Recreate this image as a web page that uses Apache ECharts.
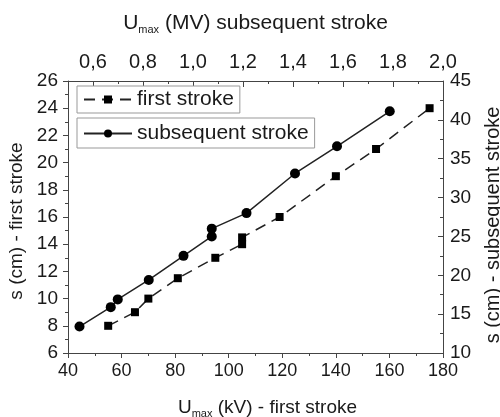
<!DOCTYPE html>
<html>
<head>
<meta charset="utf-8">
<script src="https://cdn.jsdelivr.net/npm/echarts@6/dist/echarts.min.js"></script>
<style>
  html, body { margin: 0; padding: 0; background: #fff; }
  #chart { width: 500px; height: 417px; }
</style>
</head>
<body>
<div id="chart"></div>
<script>
// first stroke: U_max (kV) vs s (cm)
const firstKV = [55, 65, 70, 81, 95, 105, 105, 119, 140, 155, 175];
const firstCm = [8, 9, 10, 11.5, 13, 14, 14.5, 16, 19, 21, 24];
// subsequent stroke: U_max (MV) vs s (cm)
const subMV = [0.546, 0.671, 0.699, 0.823, 0.962, 1.075, 1.075, 1.214, 1.408, 1.576, 1.787];
const subCm = [13.4, 15.9, 16.9, 19.4, 22.5, 25, 26, 28, 33.1, 36.6, 41.1];
// top axis labels
const topLabels = [0.6, 0.8, 1.0, 1.2, 1.4, 1.6, 1.8, 2.0];

const font = "'Liberation Sans', Arial, sans-serif";
const ink = "#1a1a1a";
const axisColor = "#444";

const chart = echarts.init(document.getElementById("chart"));

const zip = (xs, ys) => xs.map((x, i) => [x, ys[i]]);

// U with subscript "max"
const richFor = (size) => ({
  a: { fontSize: size, fontFamily: font, color: ink },
  s: { fontSize: 11, fontFamily: font, color: ink, padding: [12, 0, 0, 0] },
});

const option = {
  animation: false,
  backgroundColor: "#fff",
  textStyle: { fontFamily: font, color: ink },
  grid: { left: 68, right: 57, top: 81, bottom: 64, containLabel: false, outerBoundsMode: "none" },
  legend: [
    {
      data: ["first stroke"],
      left: 77,
      top: 86,
      orient: "vertical",
      itemWidth: 48,
      itemHeight: 10,
      itemGap: 0,
      padding: [3, 6, 3, 6],
      borderColor: "#999",
      borderWidth: 1,
      backgroundColor: "#fff",
      textStyle: { fontSize: 21, fontFamily: font, color: ink },
    },
    {
      data: ["subsequent stroke"],
      left: 77,
      top: 118,
      orient: "vertical",
      itemWidth: 48,
      itemHeight: 10,
      itemGap: 0,
      padding: [5, 6, 4, 6],
      borderColor: "#999",
      borderWidth: 1,
      backgroundColor: "#fff",
      textStyle: { fontSize: 21, fontFamily: font, color: ink },
    },
  ],
  xAxis: [
    {
      type: "value",
      position: "bottom",
      min: 40,
      max: 180,
      interval: 20,
      name: "{a|U}{s|max}{a| (kV) - first stroke}",
      nameLocation: "middle",
      nameGap: 43,
      nameTextStyle: { rich: richFor(19), padding: [0, 0, 0, 24] },
      axisLine: { show: true, lineStyle: { color: axisColor, width: 1 } },
      axisTick: { show: true, inside: false, length: 5, lineStyle: { color: axisColor } },
      minorTick: { show: true, splitNumber: 2, length: 3, lineStyle: { color: axisColor } },
      axisLabel: { fontSize: 18, fontFamily: font, color: ink, margin: 9 },
      splitLine: { show: false },
    },
    {
      type: "value",
      position: "top",
      min: 0.5,
      max: 2.0,
      name: "{a|U}{s|max}{a| (MV) subsequent stroke}",
      nameLocation: "middle",
      nameGap: 46,
      nameTextStyle: { rich: richFor(21) },
      axisLine: { show: true, onZero: false, lineStyle: { color: axisColor, width: 1 } },
      axisTick: { show: true, inside: true, length: 6, customValues: topLabels, lineStyle: { color: axisColor } },
      axisLabel: {
        fontSize: 20,
        fontFamily: font,
        color: ink,
        margin: 9,
        customValues: topLabels,
        formatter: (v) => v.toFixed(1).replace(".", ","),
      },
      splitLine: { show: false },
    },
    {
      // minor ticks of the top axis
      type: "value",
      position: "top",
      min: 0.5,
      max: 2.0,
      interval: 0.1,
      axisLine: { show: false },
      axisTick: { show: true, inside: true, length: 3, lineStyle: { color: axisColor } },
      axisLabel: { show: false },
      splitLine: { show: false },
    },
  ],
  yAxis: [
    {
      type: "value",
      position: "left",
      min: 6,
      max: 26,
      interval: 2,
      name: "s (cm) - first stroke",
      nameLocation: "middle",
      nameRotate: 90,
      nameGap: 41,
      nameTextStyle: { fontSize: 19, fontFamily: font, color: ink, padding: [0, 8, 0, 0] },
      axisLine: { show: true, lineStyle: { color: axisColor, width: 1 } },
      axisTick: { show: true, inside: false, length: 5, lineStyle: { color: axisColor } },
      minorTick: { show: true, splitNumber: 2, length: 3, lineStyle: { color: axisColor } },
      axisLabel: { fontSize: 19, fontFamily: font, color: ink, margin: 10 },
      splitLine: { show: false },
    },
    {
      type: "value",
      position: "right",
      min: 10,
      max: 45,
      interval: 5,
      name: "s (cm) - subsequent stroke",
      nameLocation: "middle",
      nameRotate: 90,
      nameGap: 40,
      nameTextStyle: { fontSize: 20, fontFamily: font, color: ink, padding: [0, 16, 0, 0] },
      axisLine: { show: true, onZero: false, lineStyle: { color: axisColor, width: 1 } },
      axisTick: { show: true, inside: true, length: 5, lineStyle: { color: axisColor } },
      minorTick: { show: true, splitNumber: 2, length: 3, lineStyle: { color: axisColor } },
      axisLabel: { fontSize: 19, fontFamily: font, color: ink, margin: 7 },
      splitLine: { show: false },
    },
  ],
  series: [
    {
      name: "first stroke",
      type: "line",
      xAxisIndex: 0,
      yAxisIndex: 0,
      data: zip(firstKV, firstCm),
      symbol: "rect",
      symbolSize: 8,
      itemStyle: { color: "#000" },
      lineStyle: { color: "#222", width: 1.5, type: [11, 7] },
    },
    {
      name: "subsequent stroke",
      type: "line",
      xAxisIndex: 1,
      yAxisIndex: 1,
      data: zip(subMV, subCm),
      symbol: "circle",
      symbolSize: 10,
      itemStyle: { color: "#000" },
      lineStyle: { color: "#222", width: 1.5 },
    },
  ],
};

chart.setOption(option);
</script>
</body>
</html>
